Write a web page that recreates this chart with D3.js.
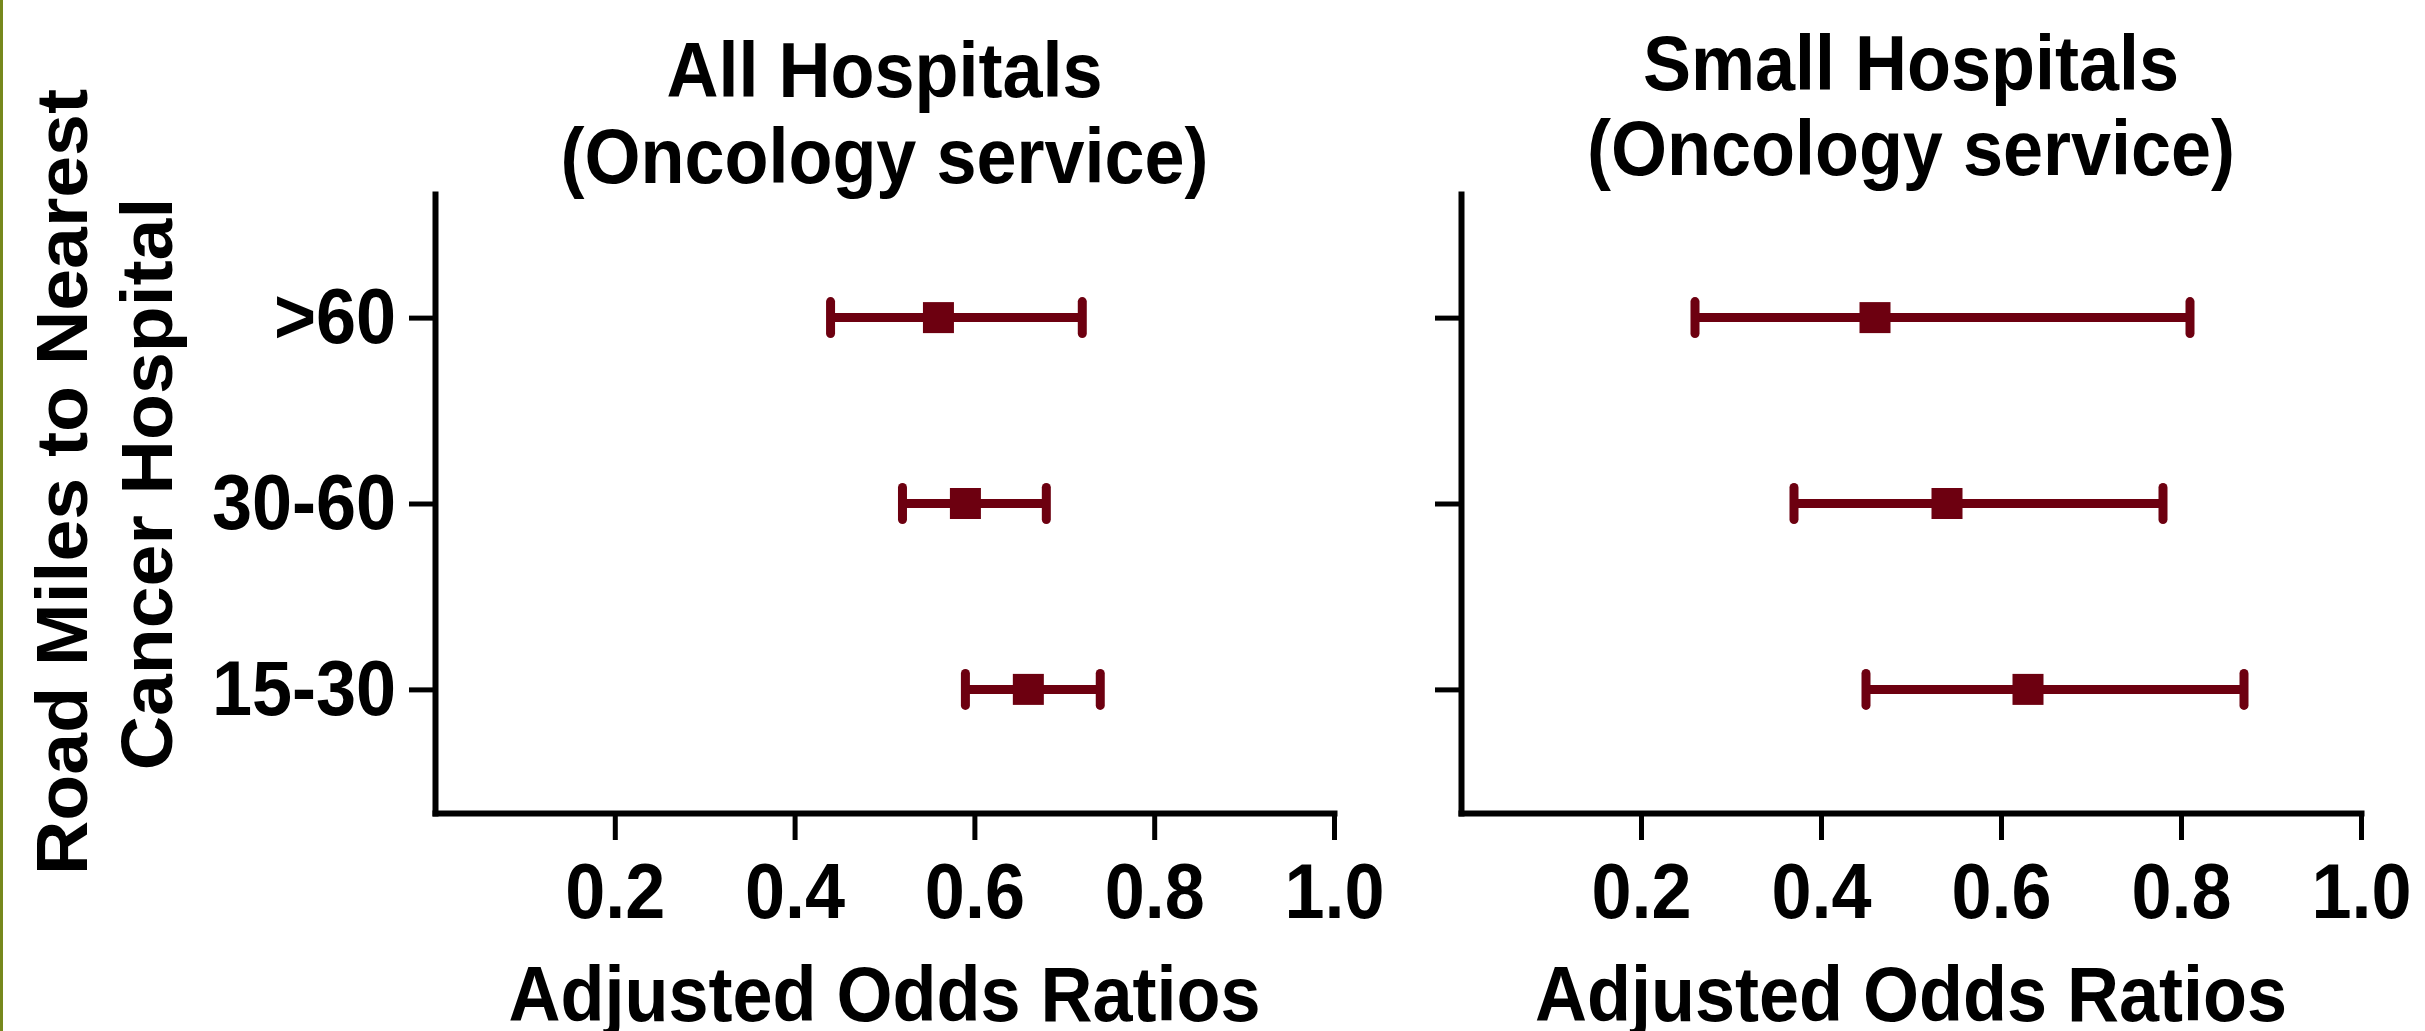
<!DOCTYPE html>
<html>
<head>
<meta charset="utf-8">
<script src="https://cdn.jsdelivr.net/npm/d3@7"></script>
<style>
  html, body { margin: 0; padding: 0; background: #ffffff; }
  svg { display: block; }
  text { font-family: "Liberation Sans", Arial, Helvetica, sans-serif; font-weight: bold; fill: #000; }
</style>
</head>
<body>
<script>
// ---- data ----
const categories = [">60", "30-60", "15-30"];
const allEstimate = [0.56, 0.59, 0.66];
const allLower    = [0.44, 0.52, 0.59];
const allUpper    = [0.72, 0.68, 0.74];
const smallEstimate = [0.46, 0.54, 0.63];
const smallLower    = [0.26, 0.37, 0.45];
const smallUpper    = [0.81, 0.78, 0.87];
const xTickValues = [0.2, 0.4, 0.6, 0.8, 1.0];
const panelTitles = [["All Hospitals", "(Oncology service)"], ["Small Hospitals", "(Oncology service)"]];
const xAxisTitle = "Adjusted Odds Ratios";
const yAxisTitle = ["Road Miles to Nearest", "Cancer Hospital"];

// ---- layout ----
const W = 2425, H = 1031;
const barColor = "#6d0010";
const SY = 1.07;

const svg = d3.select("body").append("svg").attr("width", W).attr("height", H);
svg.append("rect").attr("width", W).attr("height", H).attr("fill", "#fff");
// thin olive frame edge at left
svg.append("rect").attr("x", 0).attr("y", 0).attr("width", 3).attr("height", H).attr("fill", "#76881c");

const panels = [
  { left: 435, right: 1334, titleBase: [97, 183], est: allEstimate, lo: allLower, hi: allUpper, showY: true },
  { left: 1461, right: 2361, titleBase: [90, 175], est: smallEstimate, lo: smallLower, hi: smallUpper, showY: false }
];
const yTop = 194, yBottom = 813;

panels.forEach((p, pi) => {
  const x = d3.scaleLinear().domain([0, 1]).range([p.left, p.right]);
  const y = d3.scalePoint().domain(categories).range([yTop, yBottom]).padding(0.665);
  const cx = (p.left + p.right) / 2;

  // x axis
  const gx = svg.append("g").attr("transform", `translate(0,${yBottom})`)
    .call(d3.axisBottom(x).tickValues(xTickValues).tickSize(27).tickSizeOuter(0).tickFormat(d3.format(".1f")));
  gx.select(".domain").attr("stroke", "#000").attr("stroke-width", 6).attr("stroke-linecap", "square");
  gx.selectAll(".tick line").attr("stroke", "#000").attr("stroke-width", 5);
  gx.selectAll(".tick text")
    .attr("x", 0).attr("y", 0).attr("dy", null)
    .attr("transform", `translate(0,105) scale(1,${SY})`)
    .attr("text-anchor", "middle")
    .style("font-size", "72px").style("font-weight", "bold").attr("fill", "#000");

  // y axis
  const gy = svg.append("g").attr("transform", `translate(${p.left},0)`)
    .call(d3.axisLeft(y).tickSize(26).tickSizeOuter(0).tickFormat(p.showY ? (d => d) : () => ""));
  gy.select(".domain").attr("stroke", "#000").attr("stroke-width", 6).attr("stroke-linecap", "square");
  gy.selectAll(".tick line").attr("stroke", "#000").attr("stroke-width", 5);
  gy.selectAll(".tick text")
    .attr("x", 0).attr("y", 0).attr("dy", null)
    .attr("transform", `translate(-39,25) scale(1,${SY})`)
    .attr("text-anchor", "end")
    .style("font-size", "72px").style("font-weight", "bold").attr("fill", "#000");

  // error bars
  const rows = categories.map((c, i) => ({ c, est: p.est[i], lo: p.lo[i], hi: p.hi[i] }));
  const g = svg.append("g");
  g.selectAll("line.ci").data(rows).enter().append("line").attr("class", "ci")
    .attr("x1", d => x(d.lo)).attr("x2", d => x(d.hi))
    .attr("y1", d => y(d.c)).attr("y2", d => y(d.c))
    .attr("stroke", barColor).attr("stroke-width", 9);
  ["lo", "hi"].forEach(k => {
    g.selectAll("line.cap-" + k).data(rows).enter().append("line").attr("class", "cap-" + k)
      .attr("x1", d => x(d[k])).attr("x2", d => x(d[k]))
      .attr("y1", d => y(d.c) - 16).attr("y2", d => y(d.c) + 16)
      .attr("stroke", barColor).attr("stroke-width", 9).attr("stroke-linecap", "round");
  });
  g.selectAll("rect.pt").data(rows).enter().append("rect").attr("class", "pt")
    .attr("x", d => x(d.est) - 15.5).attr("y", d => y(d.c) - 15.5)
    .attr("width", 31).attr("height", 31).attr("fill", barColor);

  // titles
  panelTitles[pi].forEach((t, li) => {
    svg.append("text").text(t)
      .attr("text-anchor", "middle")
      .attr("transform", `translate(${cx},${p.titleBase[li]}) scale(1,${SY})`)
      .style("font-size", "72px");
  });

  // x axis title
  svg.append("text").text(xAxisTitle)
    .attr("text-anchor", "middle")
    .attr("transform", `translate(${cx},1021) scale(1,${SY})`)
    .style("font-size", "72px");
});

// y axis title (two lines, rotated)
const yTitlePos = [[87, 482], [172, 484]];
yAxisTitle.forEach((t, i) => {
  svg.append("text").text(t)
    .attr("text-anchor", "middle")
    .attr("transform", `translate(${yTitlePos[i][0]},${yTitlePos[i][1]}) rotate(-90) scale(1.045,1)`)
    .style("font-size", "72px");
});
</script>
</body>
</html>
